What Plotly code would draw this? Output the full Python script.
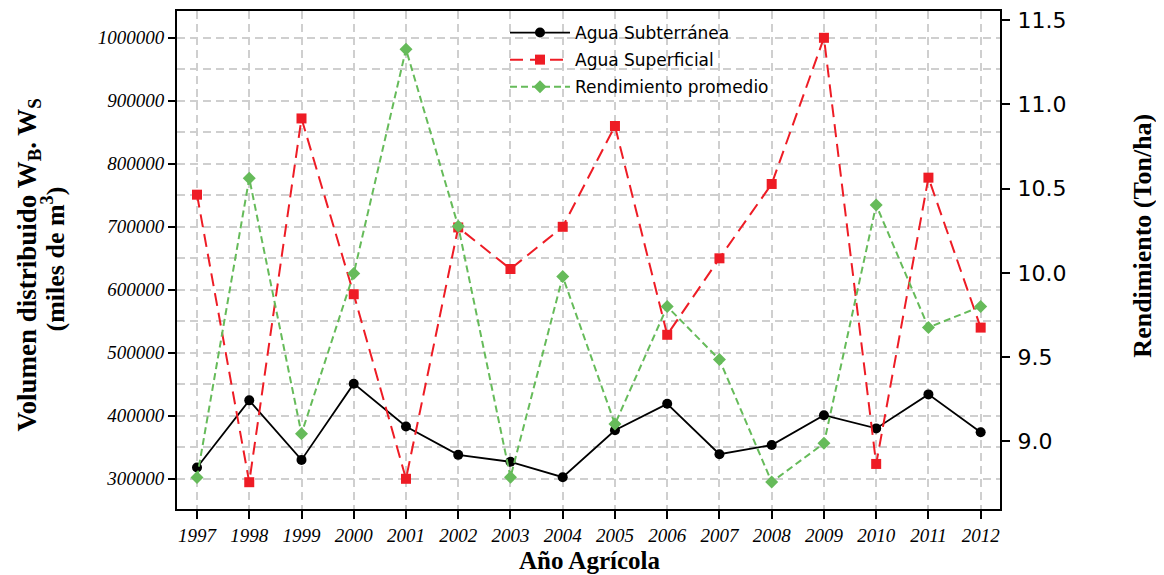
import plotly.graph_objects as go

years = [1997, 1998, 1999, 2000, 2001, 2002, 2003, 2004, 2005, 2006, 2007, 2008, 2009, 2010, 2011, 2012]
agua_subterranea = [318000, 424500, 330000, 451000, 383000, 338000, 327000, 302500,
                    377000, 419000, 339000, 353600, 401000, 380000, 434000, 374000]
agua_superficial = [751000, 294600, 872000, 593000, 300000, 699000, 633000, 700000,
                    860000, 528600, 650000, 768000, 1000000, 323600, 778000, 540000]
rendimiento = [8.785, 10.562, 9.045, 9.996, 11.328, 10.277, 8.787, 9.978,
               9.102, 9.80, 9.485, 8.758, 8.988, 10.403, 9.676, 9.80]

left_ticks = [300000, 400000, 500000, 600000, 700000, 800000, 900000, 1000000]
right_ticks = [9.0, 9.5, 10.0, 10.5, 11.0, 11.5]

SERIF = "Liberation Serif"
SANS = "DejaVu Sans"
GRID = "#cfcfcf"
GDASH = "8px,5px"

# page body adds an 8px offset; layout is expressed in page pixels below
OFF = 8
PL, PR, PT, PB = 177, 1000, 8, 509  # plot area in page pixels
PW, PH = PR - PL, PB - PT


def px_x(x):
    return (x - PL) / PW


def px_y(y):
    return (PB - y) / PH


fig = go.Figure()
fig.add_trace(go.Scatter(
    x=years, y=agua_subterranea, name="Agua Subterránea", mode="lines+markers",
    line=dict(color="black", width=1.8),
    marker=dict(symbol="circle", size=10, color="black"),
    legendgroup="a"))
fig.add_trace(go.Scatter(
    x=years, y=agua_superficial, name="Agua Superficial", mode="lines+markers",
    line=dict(color="#ee1c25", width=2, dash="13px,7px"),
    marker=dict(symbol="square", size=10, color="#ee1c25"),
    legendgroup="b"))
fig.add_trace(go.Scatter(
    x=years, y=rendimiento, name="Rendimiento promedio", mode="lines+markers",
    line=dict(color="#66bb5a", width=2, dash="7px,4px"),
    marker=dict(symbol="diamond", size=10, color="#66bb5a"),
    yaxis="y2", legendgroup="c"))

W, H = 1164 - OFF, 575 - OFF
fig.update_layout(
    width=W, height=H,
    margin=dict(l=PL - OFF, r=W - (PR - OFF), t=PT - OFF, b=H - (PB - OFF)),
    paper_bgcolor="white", plot_bgcolor="white",
    showlegend=True,
    legend=dict(x=px_x(505), y=px_y(12), xanchor="left", yanchor="top",
                bgcolor="rgba(0,0,0,0)", borderwidth=0,
                font=dict(family=SANS, size=17, color="black"),
                tracegroupgap=2, itemwidth=60),
    xaxis=dict(
        range=[1996.617, 2012.37], tickmode="array", tickvals=years,
        ticktext=[str(y) for y in years],
        tickfont=dict(family=SERIF, size=19, color="black", style="italic"),
        ticks="outside", ticklen=8, tickwidth=1.5, tickcolor="black",
        showline=True, linecolor="black", linewidth=2, mirror=True,
        showgrid=True, gridcolor=GRID, gridwidth=1.5, griddash=GDASH,
        zeroline=False),
    yaxis=dict(
        range=[252070, 1042550], tickmode="array", tickvals=left_ticks,
        ticktext=[str(v) for v in left_ticks],
        tickfont=dict(family=SERIF, size=19, color="black", style="italic"),
        ticks="outside", ticklen=7, tickwidth=1.5, tickcolor="black",
        showline=True, linecolor="black", linewidth=2, mirror=True,
        showgrid=True, gridcolor=GRID, gridwidth=1.5, griddash=GDASH,
        minor=dict(dtick=50000, tick0=0, showgrid=True, gridcolor=GRID,
                   gridwidth=1.5, griddash=GDASH, ticks=""),
        zeroline=False),
    yaxis2=dict(
        range=[8.598, 11.555], overlaying="y", side="right",
        tickmode="array", tickvals=right_ticks,
        ticktext=[f"{v:.1f}" for v in right_ticks],
        tickfont=dict(family=SANS, size=22, color="black"),
        ticks="outside", ticklen=8, tickwidth=1.5, tickcolor="black",
        ticklabeloverflow="allow", ticklabelstandoff=3,
        showline=True, linecolor="black", linewidth=2,
        showgrid=False, zeroline=False),
    annotations=[
        dict(text="<b>Año Agrícola</b>", xref="paper", yref="paper",
             x=px_x(589), y=px_y(561), xanchor="center", yanchor="middle",
             showarrow=False, font=dict(family=SERIF, size=25, color="black")),
        dict(text="<b>Volumen distribuido W<sub>B</sub>. W<sub>S</sub></b>", xref="paper", yref="paper",
             x=px_x(29), y=px_y(264), xanchor="center", yanchor="middle",
             textangle=-90, showarrow=False, font=dict(family=SERIF, size=27, color="black")),
        dict(text="<b>(miles de m<sup>3</sup>)</b>", xref="paper", yref="paper",
             x=px_x(54), y=px_y(258), xanchor="center", yanchor="middle",
             textangle=-90, showarrow=False, font=dict(family=SERIF, size=26, color="black")),
        dict(text="<b>Rendimiento (Ton/ha)</b>", xref="paper", yref="paper",
             x=px_x(1143), y=px_y(234), xanchor="center", yanchor="middle",
             textangle=-90, showarrow=False, font=dict(family=SERIF, size=26, color="black")),
    ],
)

fig.write_html("out.html")
